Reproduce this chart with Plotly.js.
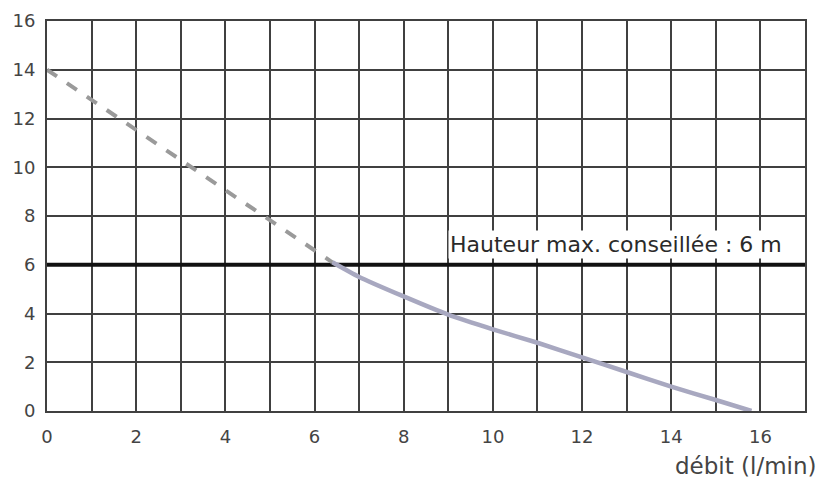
<!DOCTYPE html>
<html>
<head>
<meta charset="utf-8">
<script src="https://cdn.plot.ly/plotly-3.0.1.min.js"></script>
<style>html,body{margin:0;padding:0;background:#fff;}#chart{width:822px;height:479px;}</style>
</head>
<body>
<div id="chart"></div>
<script>
// Data
const dashX = [0, 6.4];
const dashY = [14, 6.1];
const solidX = [6.4, 7, 8, 9, 10, 11, 12, 13, 14, 15, 15.8];
const solidY = [6.1, 5.5, 4.7, 3.95, 3.35, 2.8, 2.2, 1.6, 1.0, 0.45, 0];
const maxHeight = 6;
const maxLabel = "Hauteur max. conseillée : 6 m";
const xTicks = [0, 2, 4, 6, 8, 10, 12, 14, 16];
const yTicks = [0, 2, 4, 6, 8, 10, 12, 14, 16];
const xTitle = "débit (l/min)";

const traces = [
  {x: [0, 17], y: [maxHeight, maxHeight], mode: 'lines', line: {color: '#111', width: 4}, hoverinfo: 'skip'},
  {x: dashX, y: dashY, mode: 'lines', line: {color: '#9a9a9a', width: 4, dash: 'dash'}},
  {x: solidX, y: solidY, mode: 'lines', line: {color: '#a8a8c0', width: 4.5, shape: 'spline', smoothing: 0.6}}
];

const layout = {
  width: 822, height: 479,
  margin: {l: 47, r: 17, t: 21, b: 68},
  paper_bgcolor: '#fff', plot_bgcolor: '#fff',
  showlegend: false,
  font: {family: 'DejaVu Sans, sans-serif', color: '#444', size: 18},
  xaxis: {
    range: [0, 17], tickvals: xTicks, ticktext: xTicks.map(String),
    showgrid: true, gridcolor: '#404040', gridwidth: 2,
    minor: {dtick: 1, tick0: 0, showgrid: true, gridcolor: '#404040', gridwidth: 2},
    showline: true, mirror: true, linecolor: '#404040', linewidth: 2,
    zeroline: false, ticks: 'outside', ticklen: 8, tickcolor: 'rgba(0,0,0,0)',
    tickfont: {size: 18, color: '#444'}
  },
  yaxis: {
    range: [0, 16], tickvals: yTicks, ticktext: yTicks.map(String),
    showgrid: true, gridcolor: '#404040', gridwidth: 2,
    showline: true, mirror: true, linecolor: '#404040', linewidth: 2,
    zeroline: false, ticks: 'outside', ticklen: 6, tickcolor: 'rgba(0,0,0,0)',
    tickfont: {size: 18, color: '#444'}
  },
  annotations: [
    {x: 16.8, y: maxHeight, xref: 'x', yref: 'y', text: maxLabel, showarrow: false,
     xanchor: 'right', yanchor: 'bottom', yshift: 6, xshift: -12, bgcolor: '#fff',
     font: {size: 22, color: '#2a2a2a'}},
    {x: 1, y: 0, xref: 'paper', yref: 'paper', text: xTitle, showarrow: false,
     xanchor: 'right', yanchor: 'top', xshift: 14, yshift: -40,
     font: {size: 23, color: '#444'}}
  ]
};

Plotly.newPlot('chart', traces, layout, {displayModeBar: false, staticPlot: true});
</script>
</body>
</html>
